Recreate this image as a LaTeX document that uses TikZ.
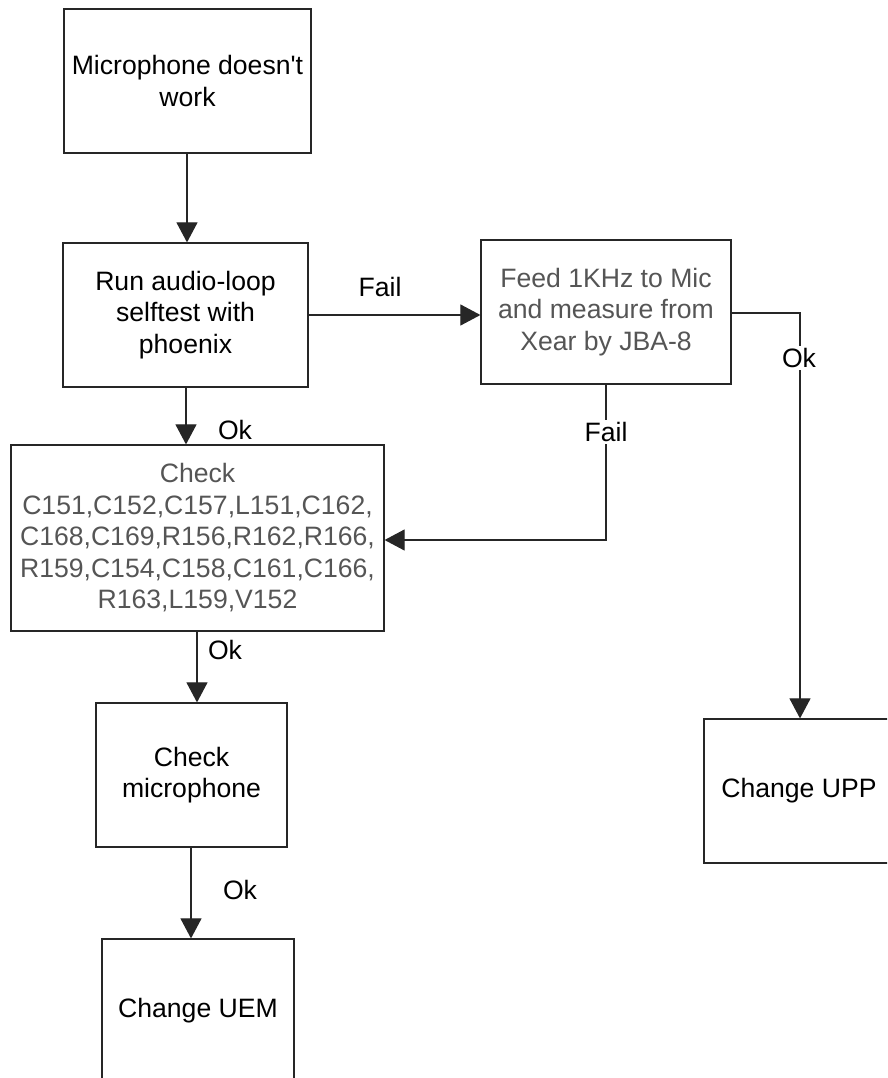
\documentclass[tikz,border=0pt]{standalone}
\usepackage{fontspec}
\setmainfont{Liberation Sans}
\usetikzlibrary{arrows.meta}
\definecolor{softtext}{HTML}{555555}
\begin{document}
\begin{tikzpicture}[x=1pt,y=-1pt,
  font=\fontsize{26.6}{31.5}\selectfont,
  box/.style={draw=black!85, line width=1.2pt, inner sep=0pt, align=center},
  link/.style={draw=black!85, line width=1.1pt, -{Triangle[length=20pt,width=21pt]}},
  plain/.style={draw=black!85, line width=1.1pt},
  tag/.style={inner sep=0pt, text=black},
  gaptag/.style={fill=white, inner sep=2pt, text=black}]
\useasboundingbox (0,0) rectangle (887,1078);
\clip (0,0) rectangle (887,1078);

% process boxes
\node[box, minimum width=247pt, minimum height=144pt] (start) at (187.5,81) {Microphone doesn\textquotesingle t\\work};
\node[box, minimum width=245pt, minimum height=144pt] (loop) at (185.5,315) {Run audio-loop\\selftest with\\phoenix};
\node[box, minimum width=373pt, minimum height=186pt, text=softtext] (parts) at (197.5,538) {Check\\C151,C152,C157,L151,C162,\\C168,C169,R156,R162,R166,\\R159,C154,C158,C161,C166,\\R163,L159,V152};
\node[box, minimum width=250pt, minimum height=144pt, text=softtext] (feed) at (606,312) {Feed 1KHz to Mic\\and measure from\\Xear by JBA-8};
\node[box, minimum width=191pt, minimum height=144pt] (mic) at (191.5,775) {Check\\microphone};
\node[box, minimum width=192pt, minimum height=144pt] (uem) at (198,1011) {Change UEM};
\node[box, minimum width=190pt, minimum height=144pt] (upp) at (799,791) {Change UPP};

% bends of the side connectors
\coordinate (feedturn) at (800,313);
\coordinate (failturn) at (606,540);

% connectors
\draw[link] (start.south -| 187,0) -- (187,0 |- loop.north);
\draw[link] (loop.south -| 186,0) -- (186,0 |- parts.north);
\draw[link] (loop.east |- 0,315) -- (feed.west |- 0,315);
\draw[link] (parts.south -| 197,0) -- (197,0 |- mic.north);
\draw[link] (mic.south -| 191,0) -- (191,0 |- uem.north);
\draw[link] (feed.east |- feedturn) -- (feedturn) -- (feedturn |- upp.north);
\draw[link] (feed.south -| failturn) -- (failturn) -- (parts.east |- failturn);

% connector labels
\node[tag] (lfail1) at (380,287) {Fail};
\node[tag] (lok1) at (235,430) {Ok};
\node[gaptag] (lfail2) at (606,432) {Fail};
\node[gaptag] (lok2) at (799,358) {Ok};
\node[tag] (lok3) at (225,650) {Ok};
\node[tag] (lok4) at (240,890) {Ok};
\end{tikzpicture}
\end{document}
